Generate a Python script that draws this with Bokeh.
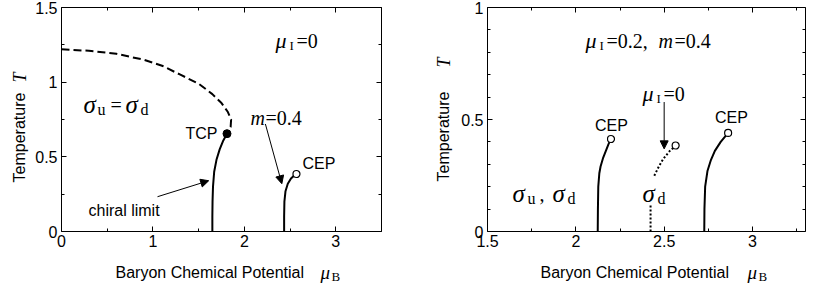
import math
from bokeh.plotting import figure
from bokeh.models import Label, Arrow, NormalHead, FixedTicker, LinearAxis, Range1d
from bokeh.layouts import row
from bokeh.embed import file_html
from bokeh.resources import INLINE

# ---------------- data: left panel (mu_I = 0) ----------------
dash_mu = [0.0, 0.3, 0.6, 0.9, 1.1, 1.3, 1.5, 1.65, 1.75, 1.82, 1.855, 1.85, 1.81]
dash_T = [1.22, 1.21, 1.19, 1.15, 1.11, 1.05, 0.99, 0.92, 0.86, 0.80, 0.75, 0.70, 0.655]
chiral_mu = [1.65, 1.65, 1.652, 1.657, 1.67, 1.695, 1.73, 1.77, 1.81]
chiral_T = [0.0, 0.1, 0.2, 0.3, 0.4, 0.48, 0.55, 0.61, 0.655]
m04_mu = [2.435, 2.435, 2.438, 2.45, 2.475, 2.51, 2.545, 2.57]
m04_T = [0.0, 0.1, 0.2, 0.27, 0.32, 0.355, 0.375, 0.385]
tcp_mu, tcp_T = [1.81], [0.655]
cep_left_mu, cep_left_T = [2.57], [0.385]

# ---------------- data: right panel (mu_I = 0.2, m = 0.4) ----------------
r1_mu = [2.124, 2.125, 2.127, 2.133, 2.14, 2.155, 2.17, 2.185, 2.199]
r1_T = [0.0, 0.1, 0.2, 0.26, 0.29, 0.33, 0.36, 0.39, 0.413]
r2_mu = [2.727, 2.728, 2.732, 2.745, 2.765, 2.787, 2.82, 2.862]
r2_T = [0.0, 0.1, 0.2, 0.27, 0.32, 0.36, 0.40, 0.44]
dot_mu = [2.444, 2.47, 2.495, 2.53, 2.561]
dot_T = [0.249, 0.29, 0.324, 0.358, 0.38]
dotv_mu = [2.423, 2.423]
dotv_T = [0.0, 0.122]
cep_r_mu = [2.199, 2.862, 2.565]
cep_r_T = [0.413, 0.44, 0.384]

# axis limits and ticks
L_xlim, L_ylim = (0.0, 3.5), (0.0, 1.5)
R_xlim, R_ylim = (1.5, 3.3), (0.0, 1.0)
L_xticks, L_xminor = [0, 1, 2, 3], [0.5, 1.5, 2.5, 3.5]
L_yticks, L_yminor = [0, 0.5, 1, 1.5], [0.25, 0.75, 1.25]
R_xticks, R_xminor = [1.5, 2, 2.5, 3], [1.75, 2.25, 2.75, 3.25]
R_yticks, R_yminor = [0, 0.5, 1], [0.1, 0.2, 0.3, 0.4, 0.6, 0.7, 0.8, 0.9]

SANS = "Liberation Sans"
SERIF = "Liberation Serif"

# ---------------- layout (pixels) ----------------
H = 285
TOP, BOT = 7, 231                 # frame top / bottom (page px)
L_W, L_X0, L_X1 = 420, 61, 381    # left canvas width, frame left / right
R_OFF, R_W, R_X0, R_X1 = 420, 394, 487, 805


def make_map(x0px, x1px, xlim, ylim, off, width):
    kx = (x1px - x0px) / (xlim[1] - xlim[0])
    ky = (BOT - TOP) / (ylim[1] - ylim[0])
    fx = lambda px: xlim[0] + (px - x0px) / kx
    fy = lambda py: ylim[0] + (BOT - py) / ky
    return fx, fy, (fx(off), fx(off + width)), (fy(H), fy(0))


lx, ly, L_xr, L_yr = make_map(L_X0, L_X1, L_xlim, L_ylim, 0, L_W)
rx, ry, R_xr, R_yr = make_map(R_X0, R_X1, R_xlim, R_ylim, R_OFF, R_W)


def style(p, xlim, ylim, xt, xm, yt, ym):
    bottom, left = p.below[0], p.left[0]
    top, right = LinearAxis(), LinearAxis()
    p.add_layout(top, "above")
    p.add_layout(right, "right")
    for ax, loc, b in ((bottom, ylim[0], xlim), (top, ylim[1], xlim)):
        ax.ticker = FixedTicker(ticks=xt, minor_ticks=xm)
        ax.fixed_location = loc
        ax.bounds = b
    for ax, loc, b in ((left, xlim[0], ylim), (right, xlim[1], ylim)):
        ax.ticker = FixedTicker(ticks=yt, minor_ticks=ym)
        ax.fixed_location = loc
        ax.bounds = b
    for ax in (bottom, left, top, right):
        ax.major_tick_in = 5
        ax.major_tick_out = 0
        ax.minor_tick_in = 3
        ax.minor_tick_out = 0
        ax.axis_line_color = "black"
        ax.axis_line_width = 1
        ax.major_tick_line_color = "black"
        ax.minor_tick_line_color = "black"
        ax.major_label_text_font = SANS
        ax.major_label_text_font_size = "16px"
        ax.major_label_text_color = "black"
    bottom.major_label_standoff = 3
    left.major_label_standoff = 4
    top.major_label_overrides = {t: "" for t in xt}
    right.major_label_overrides = {t: "" for t in yt}
    p.grid.visible = False
    p.outline_line_color = None


def lab(p, x, y, text, font=SANS, size="16px", style="normal", dx=0, dy=0,
        align="left", angle=0.0):
    p.add_layout(Label(x=x, y=y, text=text, text_font=font, text_font_size=size,
                       text_font_style=style, text_baseline="middle",
                       text_align=align, x_offset=dx, y_offset=dy, angle=angle,
                       text_color="black"))


def arrow(p, x0, y0, x1, y1):
    p.add_layout(Arrow(x_start=x0, y_start=y0, x_end=x1, y_end=y1,
                       line_color="black", line_width=1,
                       end=NormalHead(size=8, fill_color="black",
                                      line_color="black")))


# ---------------- left figure ----------------
p1 = figure(width=L_W, height=H, x_range=Range1d(*L_xr), y_range=Range1d(*L_yr),
            output_backend="svg", toolbar_location=None, min_border=0)
style(p1, L_xlim, L_ylim, L_xticks, L_xminor, L_yticks, L_yminor)
p1.line(dash_mu, dash_T, line_color="black", line_width=2, line_dash="8 4")
p1.line(chiral_mu, chiral_T, line_color="black", line_width=2)
p1.line(m04_mu, m04_T, line_color="black", line_width=2)
p1.scatter(tcp_mu, tcp_T, size=8, fill_color="black", line_color="black")
p1.scatter(cep_left_mu, cep_left_T, size=7, fill_color="white", line_color="black",
           line_width=1.2)
arrow(p1, 1.05, 0.233, 1.61, 0.34)
arrow(p1, 2.23, 0.72, 2.41, 0.32)

# mu_I = 0
a, b = lx(275), ly(40)
lab(p1, a, b, "μ", SERIF, "22px", "italic")
lab(p1, a, b, "I", SERIF, "13px", dx=14, dy=-5)
lab(p1, a, b, "=0", SERIF, "20px", dx=21)
# sigma_u = sigma_d
a, b = lx(83), ly(104)
lab(p1, a, b, "σ", SERIF, "25px", "italic")
lab(p1, a, b, "u", SERIF, "16px", dx=14, dy=-5)
lab(p1, a, b, "=", SERIF, "20px", dx=27)
lab(p1, a, b, "σ", SERIF, "25px", "italic", dx=42)
lab(p1, a, b, "d", SERIF, "16px", dx=57, dy=-5)
lab(p1, lx(217), ly(133), "TCP", align="right")
lab(p1, lx(302), ly(163), "CEP")
a, b = lx(250), ly(117)
lab(p1, a, b, "m", SERIF, "20px", "italic")
lab(p1, a, b, "=0.4", SERIF, "20px", dx=15)
lab(p1, lx(88), ly(210), "chiral limit")
# axis titles
lab(p1, lx(19), ly(137), "Temperature", align="center", angle=math.pi / 2)
lab(p1, lx(19), ly(77), "T", SERIF, "18px", "italic", align="center", angle=math.pi / 2)
lab(p1, lx(115), ly(272), "Baryon Chemical Potential")
lab(p1, lx(320), ly(272), "μ", SERIF, "19px", "italic")
lab(p1, lx(320), ly(272), "B", SERIF, "13px", dx=11, dy=-4)

# ---------------- right figure ----------------
p2 = figure(width=R_W, height=H, x_range=Range1d(*R_xr), y_range=Range1d(*R_yr),
            output_backend="svg", toolbar_location=None, min_border=0)
style(p2, R_xlim, R_ylim, R_xticks, R_xminor, R_yticks, R_yminor)
p2.line(r1_mu, r1_T, line_color="black", line_width=2)
p2.line(r2_mu, r2_T, line_color="black", line_width=2)
p2.line(dot_mu, dot_T, line_color="black", line_width=2, line_dash="2 2")
p2.line(dotv_mu, dotv_T, line_color="black", line_width=2, line_dash="2 2")
p2.scatter(cep_r_mu, cep_r_T, size=7, fill_color="white", line_color="black",
           line_width=1.2)
arrow(p2, 2.50, 0.578, 2.50, 0.369)

a, b = rx(585), ry(40)
lab(p2, a, b, "μ", SERIF, "22px", "italic")
lab(p2, a, b, "I", SERIF, "13px", dx=14, dy=-5)
lab(p2, a, b, "=0.2,", SERIF, "20px", dx=21)
lab(p2, a, b, "m", SERIF, "20px", "italic", dx=73)
lab(p2, a, b, "=0.4", SERIF, "20px", dx=89)
a, b = rx(642), ry(93)
lab(p2, a, b, "μ", SERIF, "22px", "italic")
lab(p2, a, b, "I", SERIF, "13px", dx=14, dy=-5)
lab(p2, a, b, "=0", SERIF, "20px", dx=21)
lab(p2, rx(611), ry(125), "CEP", align="center")
lab(p2, rx(731), ry(117), "CEP", align="center")
a, b = rx(512), ry(193)
lab(p2, a, b, "σ", SERIF, "25px", "italic")
lab(p2, a, b, "u", SERIF, "16px", dx=15, dy=-5)
lab(p2, a, b, ",", SERIF, "20px", dx=27)
lab(p2, a, b, "σ", SERIF, "25px", "italic", dx=40)
lab(p2, a, b, "d", SERIF, "16px", dx=55, dy=-5)
a, b = rx(642), ry(193)
lab(p2, a, b, "σ", SERIF, "25px", "italic")
lab(p2, a, b, "d", SERIF, "16px", dx=15, dy=-5)
lab(p2, rx(443), ry(136), "Temperature", align="center", angle=math.pi / 2)
lab(p2, rx(443), ry(62), "T", SERIF, "18px", "italic", align="center", angle=math.pi / 2)
lab(p2, rx(540), ry(272), "Baryon Chemical Potential")
lab(p2, rx(747), ry(272), "μ", SERIF, "19px", "italic")
lab(p2, rx(747), ry(272), "B", SERIF, "13px", dx=11, dy=-4)

layout = row(p1, p2)
open("out.html", "w").write(file_html(layout, INLINE))
